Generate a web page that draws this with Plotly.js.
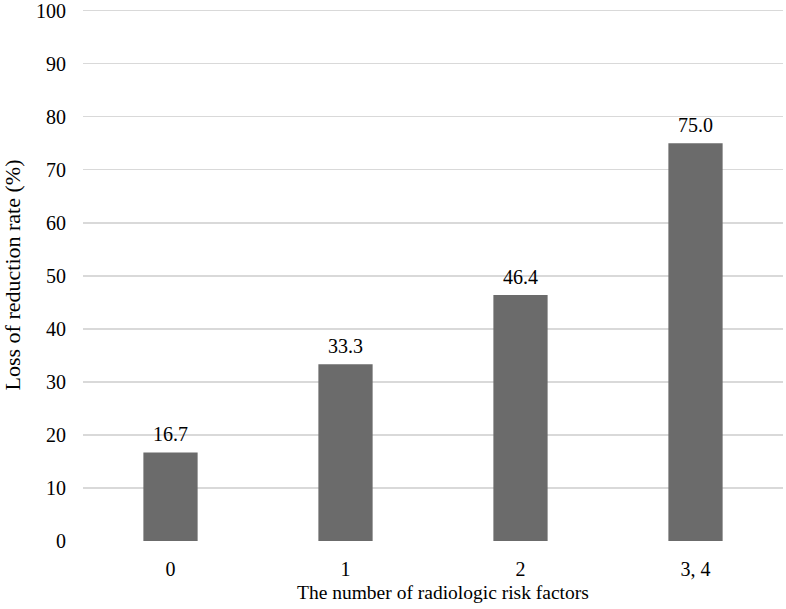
<!DOCTYPE html>
<html><head><meta charset="utf-8">
<script src="https://cdn.plot.ly/plotly-3.0.1.min.js"></script>
<style>html,body{margin:0;padding:0;background:#fff}#chart{width:786px;height:609px}</style>
</head><body><div id="chart"></div>
<script>
var categories = ["0", "1", "2", "3, 4"];
var values = [16.7, 33.3, 46.4, 75.0];
var labels = ["16.7", "33.3", "46.4", "75.0"];
var yTicks = [0,10,20,30,40,50,60,70,80,90,100];
var xTitle = 'The number of radiologic risk factors';
var yTitle = 'Loss of reduction rate (%)';

var FONT = 'Liberation Serif, Times New Roman, serif';
var trace = {
  type: 'bar', x: categories, y: values,
  marker: {color: '#6b6b6b'}, width: 0.31, hoverinfo: 'none'
};
var annotations = categories.map(function(c, i) {
  return {x: c, y: values[i], text: labels[i], showarrow: false,
    xref: 'x', yref: 'y', yanchor: 'bottom', yshift: 5,
    font: {family: FONT, size: 20, color: '#000'}};
});
annotations.push({xref: 'paper', yref: 'paper', x: 0.514, y: 0, xanchor: 'center', yanchor: 'middle',
  yshift: -51, showarrow: false, text: xTitle, font: {family: FONT, size: 19.5, color: '#000'}});
var layout = {
  width: 786, height: 609,
  margin: {l: 83, r: 3, t: 9, b: 68},
  paper_bgcolor: '#fff', plot_bgcolor: '#fff',
  font: {family: FONT, size: 20, color: '#000'},
  showlegend: false,
  annotations: annotations,
  xaxis: {type: 'category', showgrid: false, zeroline: false, showline: false,
    ticks: 'outside', ticklen: 10, tickcolor: 'rgba(0,0,0,0)',
    tickfont: {size: 20}},
  yaxis: {range: [0, 100.3], tickvals: yTicks, showgrid: true, gridcolor: '#d9d9d9', gridwidth: 1.5,
    zeroline: false, showline: false, ticklabeloverflow: 'allow',
    ticks: 'outside', ticklen: 12, tickcolor: 'rgba(0,0,0,0)',
    tickfont: {size: 20},
    title: {text: yTitle, font: {size: 22}, standoff: 15}}
};
Plotly.newPlot('chart', [trace], layout, {displayModeBar: false, staticPlot: true});
</script></body></html>
